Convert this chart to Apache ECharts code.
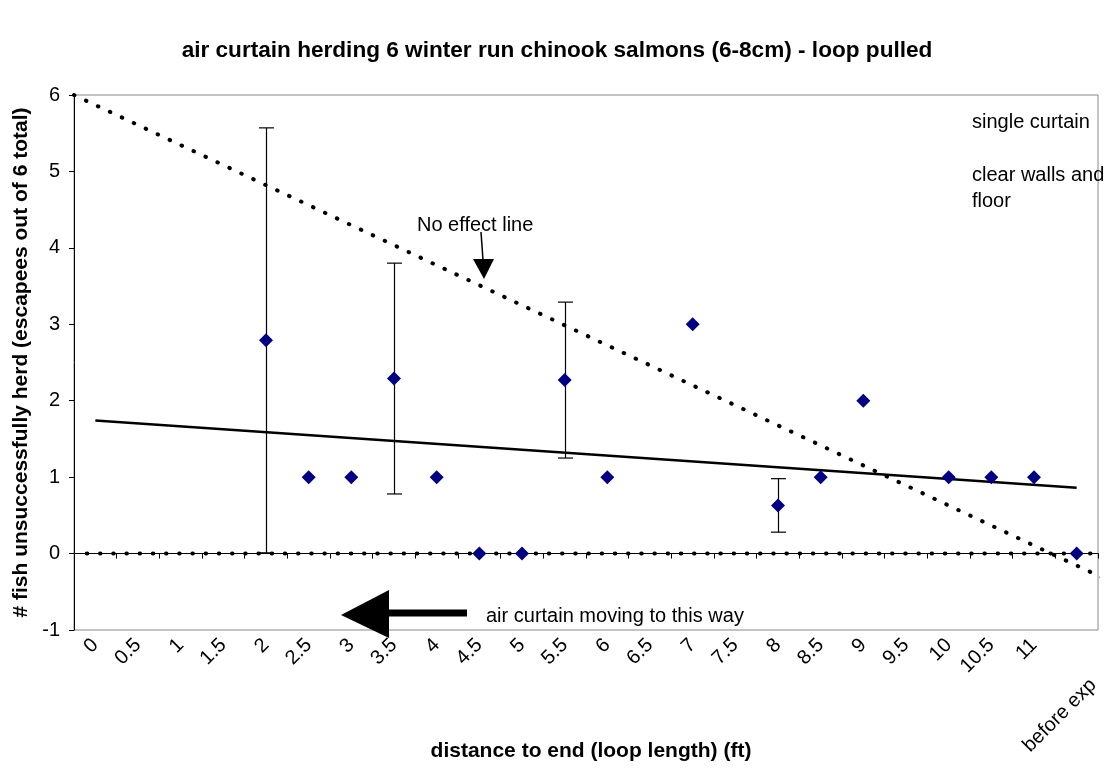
<!DOCTYPE html>
<html>
<head>
<meta charset="utf-8">
<title>air curtain herding</title>
<script src="https://cdn.jsdelivr.net/npm/echarts@6/dist/echarts.min.js"></script>
<style>
  html, body { margin: 0; padding: 0; background: #fff; }
  #chart { width: 1114px; height: 773px; }
</style>
</head>
<body>
<div id="chart"></div>
<script>
// categories along the loop (ft), plus the reading before the experiment
const categories = ['0', '0.5', '1', '1.5', '2', '2.5', '3', '3.5', '4', '4.5', '5', '5.5',
  '6', '6.5', '7', '7.5', '8', '8.5', '9', '9.5', '10', '10.5', '11', 'before exp'];
// fish escaping the herd, '-' = no trial at that distance
const escapees = ['-', '-', '-', '-', 2.79, 1, 1, 2.29, 1, 0, 0, 2.27,
  1, '-', 3, '-', 0.63, 1, 2, '-', 1, 1, 1, 0];
// +/- error bars
const errCategories = ['2', '3.5', '5.5', '8'];
const errSizes = [2.78, 1.51, 1.02, 0.35];
// linear trend (ends)
const trendCategories = ['0', 'before exp'];
const trendValues = [1.74, 0.86];
// hand drawn dotted lines, x in category widths from the y axis
const noEffectX = [0, 24.2];
const noEffectY = [6, -0.34];
const zeroLineX = [0.3, 24];
const zeroLineY = [0, 0];

const FONT = '"Liberation Sans", Arial, sans-serif';

const errData = errCategories.map(function (c, i) {
  const idx = categories.indexOf(c);
  const v = escapees[idx];
  return [idx, v - errSizes[i], v + errSizes[i]];
});
const trendData = categories.map(function (c) {
  const k = trendCategories.indexOf(c);
  return k < 0 ? '-' : trendValues[k];
});
const pairs = (xs, ys) => xs.map((x, i) => [x, ys[i]]);

const dotted = { color: '#000', width: 4, type: [0.5, 12.7], cap: 'round' };
const boldText = { fontWeight: 'bold', fontFamily: FONT, color: '#000' };

function txt(text, x, y) {
  return { type: 'text', x: x, y: y, z: 100,
    style: { text: text, fontSize: 20, fontFamily: FONT, fill: '#000', verticalAlign: 'middle' } };
}

const chart = echarts.init(document.getElementById('chart'));
chart.setOption({
  backgroundColor: '#fff',
  animation: false,
  title: [{
    text: 'air curtain herding 6 winter run chinook salmons (6-8cm) - loop pulled',
    left: 'center',
    top: 34,
    textStyle: Object.assign({ fontSize: 22.6 }, boldText)
  }, {
    // x axis title, centred under the plot area
    text: 'distance to end (loop length) (ft)',
    left: 586,
    textAlign: 'center',
    top: 736,
    textStyle: Object.assign({ fontSize: 21 }, boldText)
  }],
  grid: {
    left: 74, right: 16, top: 95, bottom: 143,
    containLabel: false, outerBoundsMode: 'none',
    show: true, borderColor: '#888', borderWidth: 1
  },
  xAxis: [{
    type: 'category',
    data: categories,
    boundaryGap: true,
    axisLine: { lineStyle: { color: '#000', width: 1 } },
    axisTick: { show: true, interval: 0, length: 5, lineStyle: { color: '#000' } },
    axisLabel: {
      interval: 0, rotate: 45, margin: 12, fontSize: 20, fontFamily: FONT, color: '#000',
      // the last label sits lower in the original
      formatter: function (v, i) {
        return i === categories.length - 1 ? '\n\n\n\n' + v + '   ' : v;
      }
    },
    splitLine: { show: false }
  }, {
    type: 'value',
    min: 0,
    max: 24,
    show: false
  }],
  yAxis: {
    type: 'value',
    min: -1,
    max: 6,
    interval: 1,
    name: '# fish unsuccessfully herd (escapees out of 6 total)',
    nameLocation: 'middle',
    nameRotate: 90,
    nameGap: 42,
    nameTextStyle: Object.assign({ fontSize: 21 }, boldText),
    axisLine: { show: true, lineStyle: { color: '#000', width: 1 } },
    axisTick: { show: true, length: 5, lineStyle: { color: '#000' } },
    axisLabel: { margin: 14, fontSize: 20, fontFamily: FONT, color: '#000' },
    splitLine: { show: false }
  },
  series: [{
    name: 'no effect',
    type: 'line',
    xAxisIndex: 1,
    data: pairs(noEffectX, noEffectY),
    showSymbol: false,
    clip: false,
    lineStyle: dotted,
    z: 2
  }, {
    name: 'zero',
    type: 'line',
    xAxisIndex: 1,
    data: pairs(zeroLineX, zeroLineY),
    showSymbol: false,
    clip: false,
    lineStyle: dotted,
    z: 2
  }, {
    name: 'trend',
    type: 'line',
    data: trendData,
    connectNulls: true,
    showSymbol: false,
    lineStyle: { color: '#000', width: 2.5 },
    z: 3
  }, {
    name: 'error',
    type: 'custom',
    data: errData,
    encode: { x: 0, y: [1, 2] },
    renderItem: function (params, api) {
      const top = api.coord([api.value(0), api.value(2)]);
      const bot = api.coord([api.value(0), api.value(1)]);
      const x = Math.round(top[0]) + 0.5;
      const w = 7.5;
      const style = { stroke: '#000', lineWidth: 1.2 };
      return {
        type: 'group',
        children: [
          { type: 'line', shape: { x1: x, y1: top[1], x2: x, y2: bot[1] }, style: style },
          { type: 'line', shape: { x1: x - w, y1: top[1], x2: x + w, y2: top[1] }, style: style },
          { type: 'line', shape: { x1: x - w, y1: bot[1], x2: x + w, y2: bot[1] }, style: style }
        ]
      };
    },
    z: 4
  }, {
    name: 'escapees',
    type: 'scatter',
    data: escapees,
    symbol: 'diamond',
    symbolSize: 14,
    itemStyle: { color: '#000080', opacity: 1 },
    z: 5
  }],
  graphic: [
    txt('No effect line', 417, 225),
    { type: 'polyline', z: 100, shape: { points: [[481, 232], [483, 260]] }, style: { stroke: '#000', lineWidth: 1.5 } },
    { type: 'polygon', z: 100, shape: { points: [[473, 259], [494, 259], [484, 279]] }, style: { fill: '#000' } },
    { type: 'polyline', z: 100, shape: { points: [[386, 613], [467, 613]] }, style: { stroke: '#000', lineWidth: 7 } },
    { type: 'polygon', z: 100, shape: { points: [[341, 615], [389, 590], [389, 638]] }, style: { fill: '#000' } },
    txt('air curtain moving to this way', 486, 616),
    txt('single curtain', 972, 122),
    txt('clear walls and', 972, 175),
    txt('floor', 972, 201)
  ]
});
</script>
</body>
</html>
